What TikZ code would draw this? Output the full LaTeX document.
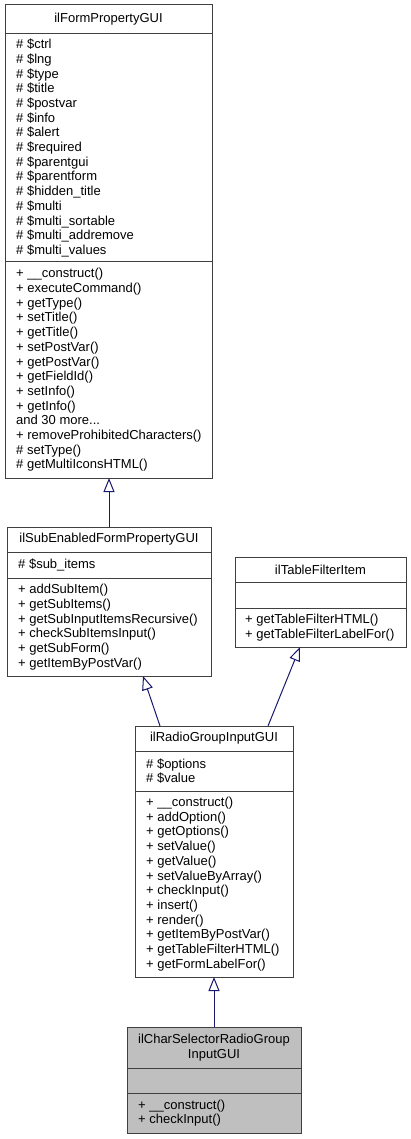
\documentclass[tikz,border=0pt]{standalone}
\usepackage{fontspec}
\setmainfont{Liberation Sans}
\usetikzlibrary{arrows.meta,calc}
\definecolor{edgeblue}{HTML}{191970}
\definecolor{boxline}{HTML}{404040}
\definecolor{curfill}{HTML}{BFBFBF}
\tikzset{
  cls/.style={draw=boxline, line width=1pt, anchor=north west, inner sep=0pt, outer sep=0pt},
  divider/.style={draw=boxline, line width=1pt},
  txt/.style={anchor=west, align=left, inner sep=0pt, font=\fontsize{13}{14.7}\selectfont},
  ttl/.style={anchor=center, align=center, inner sep=0pt, font=\fontsize{13}{14.7}\selectfont},
  inh/.style={draw=edgeblue, line width=1pt, -{Triangle[fill=white, length=14pt, width=11pt]}},
}
\begin{document}
\begin{tikzpicture}[x=1pt,y=-1pt]
\useasboundingbox (0,0) rectangle (411,1139);
\fill[white] (0,0) rectangle (411,1139);

% ilFormPropertyGUI
\node[cls, minimum width=207pt, minimum height=473pt] (b1) at (5,5) {};
\draw[divider] (5,34) -- (212,34);
\draw[divider] (5,262) -- (212,262);
\node[ttl] (b1t) at (108.5,19.5) {ilFormPropertyGUI};
\node[txt] (b1a) at (16,148) {\# \$ctrl\\\# \$lng\\\# \$type\\\# \$title\\\# \$postvar\\\# \$info\\\# \$alert\\\# \$required\\\# \$parentgui\\\# \$parentform\\\# \$hidden\_title\\\# \$multi\\\# \$multi\_sortable\\\# \$multi\_addremove\\\# \$multi\_values};
\node[txt] (b1m) at (16,370) {+ \_\_construct()\\+ executeCommand()\\+ getType()\\+ setTitle()\\+ getTitle()\\+ setPostVar()\\+ getPostVar()\\+ getFieldId()\\+ setInfo()\\+ getInfo()\\and 30 more...\\+ removeProhibitedCharacters()\\\# setType()\\\# getMultiIconsHTML()};

% ilSubEnabledFormPropertyGUI
\node[cls, minimum width=204pt, minimum height=149pt] (b2) at (7,527) {};
\draw[divider] (7,552) -- (211,552);
\draw[divider] (7,578) -- (211,578);
\node[ttl] (b2t) at (109,539.5) {ilSubEnabledFormPropertyGUI};
\node[txt] (b2a) at (18,565) {\# \$sub\_items};
\node[txt] (b2m) at (18,627) {+ addSubItem()\\+ getSubItems()\\+ getSubInputItemsRecursive()\\+ checkSubItemsInput()\\+ getSubForm()\\+ getItemByPostVar()};

% ilTableFilterItem
\node[cls, minimum width=171pt, minimum height=90pt] (b3) at (235,557) {};
\draw[divider] (235,582) -- (406,582);
\draw[divider] (235,608) -- (406,608);
\node[ttl] (b3t) at (320.5,569.5) {ilTableFilterItem};
\node[txt] (b3m) at (245,627.5) {+ getTableFilterHTML()\\+ getTableFilterLabelFor()};

% ilRadioGroupInputGUI
\node[cls, minimum width=158pt, minimum height=251pt] (b4) at (135,726) {};
\draw[divider] (135,751) -- (293,751);
\draw[divider] (135,791) -- (293,791);
\node[ttl] (b4t) at (214,738.5) {ilRadioGroupInputGUI};
\node[txt] (b4a) at (146,771) {\# \$options\\\# \$value};
\node[txt] (b4m) at (146,884) {+ \_\_construct()\\+ addOption()\\+ getOptions()\\+ setValue()\\+ getValue()\\+ setValueByArray()\\+ checkInput()\\+ insert()\\+ render()\\+ getItemByPostVar()\\+ getTableFilterHTML()\\+ getFormLabelFor()};

% ilCharSelectorRadioGroupInputGUI
\node[cls, fill=curfill, minimum width=174pt, minimum height=106pt] (b5) at (127,1027) {};
\draw[divider] (127,1068) -- (301,1068);
\draw[divider] (127,1093) -- (301,1093);
\node[ttl] (b5t) at (214,1047.5) {ilCharSelectorRadioGroup\\InputGUI};
\node[txt] (b5m) at (138,1113) {+ \_\_construct()\\+ checkInput()};

% inheritance
\draw[inh] (b2.north) -- (b2.north |- b1.south);
\draw[inh] ($(b4.north west)+(25,0)$) -- ($(b2.south west)+(136,0)$);
\draw[inh] ($(b4.north west)+(133,0)$) -- ($(b3.south west)+(65,0)$);
\draw[inh] (b5.north) -- (b4.south);
\end{tikzpicture}
\end{document}
